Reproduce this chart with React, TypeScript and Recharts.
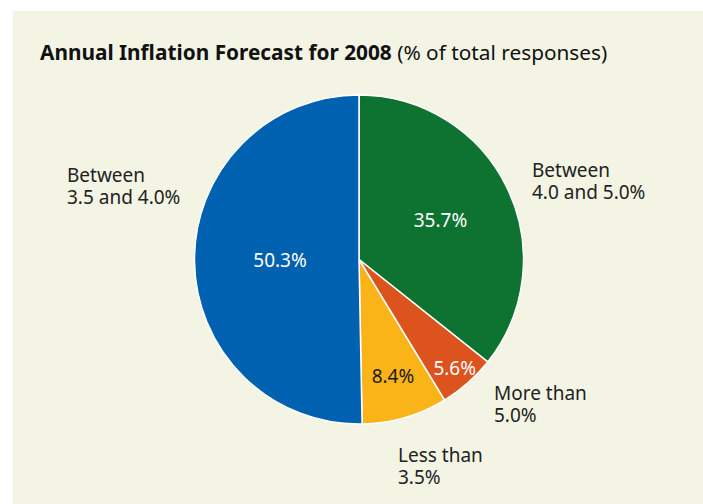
import React from 'react';
import { PieChart, Pie, Cell } from 'recharts';

const categories = ['Between 4.0 and 5.0%', 'More than 5.0%', 'Less than 3.5%', 'Between 3.5 and 4.0%'];
const labelLines = [['Between', '4.0 and 5.0%'], ['More than', '5.0%'], ['Less than', '3.5%'], ['Between', '3.5 and 4.0%']];
const values = [35.7, 5.6, 8.4, 50.3];
const colors = ['#0e7331', '#dc531e', '#fab418', '#0061b0'];
const innerTextColors = ['#ffffff', '#ffffff', '#1a1a1a', '#ffffff'];

const data = categories.map((name, i) => ({ name, value: values[i] }));

const innerRadiusFactor = [0.55, 0.88, 0.74, 0.48];
const outerOffsets = [
  [173, -82.5],
  [135, 140.5],
  [39, 202.5],
  [-292, -77.5],
];

const RADIAN = Math.PI / 180;
const FONT = '"Noto Sans", sans-serif';

const renderLabel = (props: any) => {
  const { cx, cy, midAngle, outerRadius, index, value } = props;
  const r = outerRadius * innerRadiusFactor[index];
  const x = cx + r * Math.cos(-midAngle * RADIAN);
  const y = cy + r * Math.sin(-midAngle * RADIAN);
  const [ox, oy] = outerOffsets[index];
  return (
    <g key={`lbl-${index}`}>
      <text x={x} y={y} textAnchor="middle" dominantBaseline="central" fill={innerTextColors[index]} fontSize={19} fontFamily={FONT}>
        {`${value.toFixed(1)}%`}
      </text>
      <text x={cx + ox} y={cy + oy} textAnchor="start" fill="#222" fontSize={19} fontFamily={FONT}>
        {labelLines[index][0]}
      </text>
      <text x={cx + ox} y={cy + oy + 22} textAnchor="start" fill="#222" fontSize={19} fontFamily={FONT}>
        {labelLines[index][1]}
      </text>
    </g>
  );
};

export default function App() {
  return (
    <div style={{ position: 'absolute', left: 0, top: 0, width: 703, height: 504, background: '#ffffff', overflow: 'hidden' }}>
      <div style={{ position: 'absolute', left: 13, top: 11, width: 690, height: 493, background: '#f3f4e3' }} />
      <svg width={703} height={80} style={{ position: 'absolute', left: 0, top: 0 }}>
        <text x={40} y={60} fontFamily={FONT} fontSize={20.8} fill="#111">
          <tspan fontWeight="bold">Annual Inflation Forecast for 2008</tspan>
          <tspan> (% of total responses)</tspan>
        </text>
      </svg>
      <div style={{ position: 'absolute', left: 0, top: 0 }}>
        <PieChart width={703} height={504}>
          <Pie
            data={data}
            dataKey="value"
            nameKey="name"
            cx={354}
            cy={254.5}
            outerRadius={164.5}
            startAngle={90}
            endAngle={-270}
            stroke="#ffffff"
            strokeWidth={1.5}
            label={renderLabel}
            labelLine={false}
            isAnimationActive={false}
          >
            {data.map((d, i) => (
              <Cell key={d.name} fill={colors[i]} />
            ))}
          </Pie>
        </PieChart>
      </div>
    </div>
  );
}
